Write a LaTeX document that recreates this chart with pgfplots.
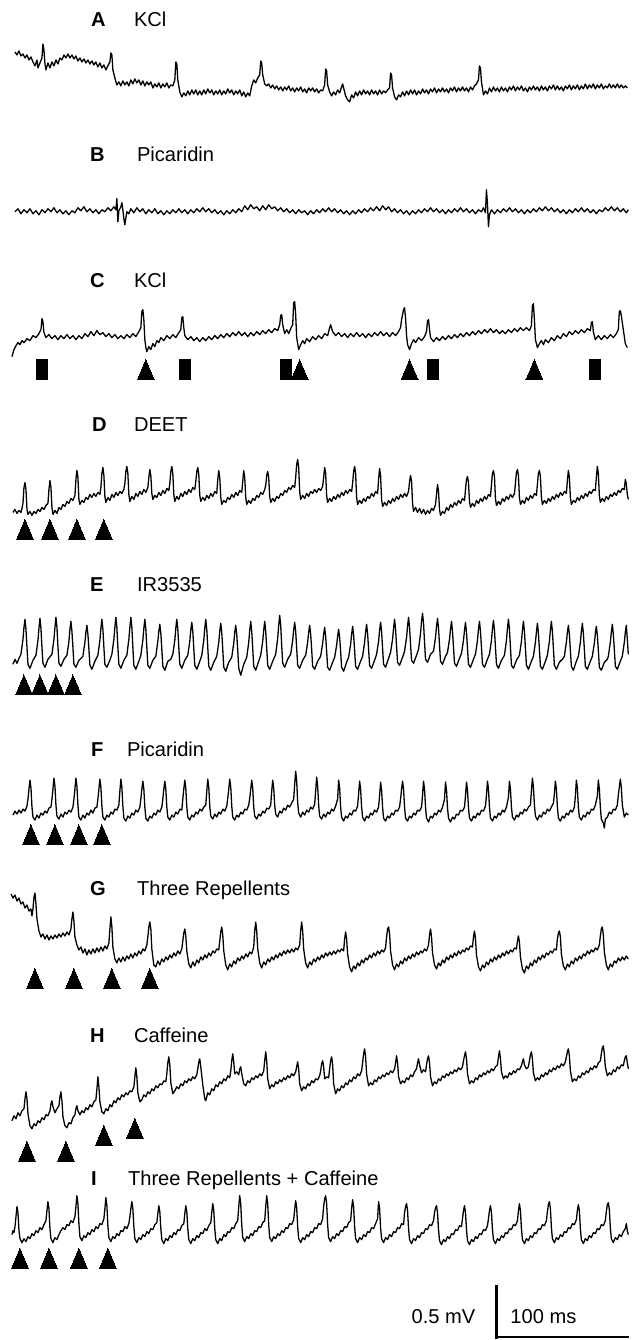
\documentclass[border=0pt]{standalone}
\usepackage{pgfplots}
\pgfplotsset{compat=1.18}
\usepackage{fontspec}
\setmainfont{Liberation Sans}
\pgfplotsset{
  trace/.style={black,line width=1.3pt,mark=none,line join=round},
  tri/.style={only marks,mark=triangle*,mark size=9.8pt,mark options={yscale=1.36,fill=black,draw=black,line width=0pt}},
  sq/.style={only marks,mark=square*,mark size=10pt,mark options={xscale=0.55,fill=black,draw=black,line width=0pt}}}
\tikzset{lab/.style={anchor=base west,inner sep=0pt,font=\fontsize{20.2}{23}\selectfont}}
\begin{document}
\begin{tikzpicture}
\begin{axis}[width=632bp,height=1340bp,scale only axis,
  xmin=0,xmax=632,ymin=0,ymax=1340,y dir=reverse,hide axis,clip=false]
% ---- A
\addplot[trace] coordinates {(15,52)(17,55)(19,51)(21,56)(23,54)(25,58)(27,55)(29,60)(31,57)(33,62)(35,66)(37,60)(38,68)(40,63)(42,58)(43,44)(44,50)(45,64)(46,70)(48,63)(50,68)(52,62)(54,66)(56,60)(58,64)(60,58)(62,60)(64,55)(66,58)(68,54)(70,58)(72,55)(74,59)(76,56)(78,61)(80,58)(82,62)(84,59)(86,63)(88,60)(90,64)(92,61)(94,65)(96,62)(98,67)(100,63)(102,68)(104,65)(106,70)(108,66)(110,62)(111,53)(112,55)(113,70)(115,78)(117,85)(119,82)(121,86)(123,81)(125,85)(127,82)(129,86)(131,80)(133,84)(135,79)(137,83)(139,80)(141,85)(143,81)(145,86)(147,82)(149,85)(151,82)(153,88)(155,84)(157,87)(159,83)(161,88)(163,84)(165,87)(167,83)(169,88)(171,85)(173,86)(175,80)(176,62)(177,64)(178,80)(180,92)(182,97)(184,93)(186,96)(188,91)(190,95)(192,90)(194,94)(196,90)(198,95)(200,91)(202,95)(204,90)(206,94)(208,89)(210,93)(212,90)(214,95)(216,91)(218,94)(220,90)(222,95)(224,91)(226,94)(228,89)(230,93)(232,90)(234,95)(236,91)(238,94)(240,90)(242,96)(244,92)(246,97)(248,93)(250,96)(252,86)(254,80)(256,83)(258,78)(260,75)(261,61)(262,63)(263,75)(265,84)(267,86)(269,84)(271,88)(273,85)(275,89)(277,86)(279,90)(281,87)(283,91)(285,87)(287,90)(289,86)(291,91)(293,88)(295,92)(297,88)(299,91)(301,87)(303,92)(305,89)(307,93)(309,88)(311,91)(313,88)(315,92)(317,89)(319,93)(321,90)(323,91)(325,85)(326,69)(327,71)(328,85)(330,92)(332,96)(334,92)(336,95)(338,90)(340,93)(342,87)(343,84)(344,88)(346,96)(348,100)(350,102)(352,95)(354,98)(356,92)(358,96)(360,91)(362,95)(364,90)(366,94)(368,91)(370,95)(372,90)(374,94)(376,91)(378,95)(380,90)(382,94)(384,91)(386,93)(388,90)(390,88)(391,73)(392,75)(393,88)(395,97)(397,100)(399,95)(401,97)(403,92)(405,96)(407,91)(409,95)(411,90)(413,94)(415,90)(417,95)(419,91)(421,94)(423,89)(425,93)(427,90)(429,94)(431,89)(433,92)(435,88)(437,93)(439,89)(441,92)(443,88)(445,92)(447,89)(449,93)(451,88)(453,91)(455,87)(457,92)(459,88)(461,91)(463,87)(465,91)(467,88)(469,92)(471,87)(473,90)(475,86)(477,84)(479,80)(480,66)(481,68)(482,82)(484,95)(486,91)(488,94)(490,88)(492,92)(494,87)(496,91)(498,88)(500,92)(502,87)(504,91)(506,88)(508,92)(510,87)(512,90)(514,86)(516,91)(518,87)(520,90)(522,86)(524,91)(526,88)(528,92)(530,87)(532,90)(534,86)(536,90)(538,87)(540,91)(542,86)(544,90)(546,87)(548,91)(550,86)(552,89)(554,85)(556,90)(558,86)(560,90)(562,87)(564,91)(566,86)(568,89)(570,85)(572,90)(574,86)(576,89)(578,85)(580,90)(582,86)(584,89)(586,84)(588,89)(590,85)(592,88)(594,84)(596,89)(598,85)(600,88)(602,84)(604,89)(606,86)(608,88)(610,84)(612,88)(614,85)(616,88)(618,84)(620,88)(622,85)(624,88)(626,86)(628,88)};
% ---- B
\addplot[trace] coordinates {(15,212)(18,209)(21,214)(24,210)(27,213)(30,209)(33,214)(36,211)(39,215)(42,210)(45,213)(48,209)(51,212)(54,208)(57,213)(60,210)(63,214)(66,211)(69,215)(72,211)(75,213)(78,208)(81,211)(84,207)(87,212)(90,209)(93,213)(96,210)(99,214)(102,210)(105,212)(108,208)(111,211)(114,207)(116,210)(117,199)(118,222)(119,211)(121,207)(122,203)(123,210)(124,219)(125,225)(126,218)(127,212)(129,214)(131,209)(134,213)(137,208)(140,212)(143,209)(146,214)(149,210)(152,213)(155,209)(158,214)(161,211)(164,215)(167,211)(170,214)(173,210)(176,213)(179,209)(182,213)(185,210)(188,214)(191,210)(194,213)(197,209)(200,212)(203,208)(206,212)(209,209)(212,213)(215,210)(218,214)(221,211)(224,215)(227,211)(230,214)(233,210)(236,213)(239,209)(242,212)(245,206)(248,210)(251,205)(254,209)(257,207)(260,211)(263,206)(266,210)(269,205)(272,209)(275,207)(278,211)(281,208)(284,212)(287,209)(290,213)(293,210)(296,214)(299,210)(302,213)(305,211)(308,215)(311,211)(314,214)(317,210)(320,213)(323,209)(326,212)(329,208)(332,212)(335,209)(338,213)(341,210)(344,214)(347,211)(350,215)(353,211)(356,214)(359,210)(362,213)(365,209)(368,212)(371,208)(374,211)(377,207)(380,211)(383,206)(386,210)(389,207)(392,212)(395,209)(398,213)(401,210)(404,214)(407,211)(410,215)(413,211)(416,214)(419,210)(422,213)(425,209)(428,212)(431,208)(434,212)(437,209)(440,213)(443,210)(446,214)(449,210)(452,213)(455,209)(458,212)(461,208)(464,212)(467,209)(470,213)(473,210)(476,214)(479,210)(482,212)(484,208)(486,213)(487,190)(488,204)(489,227)(490,215)(492,210)(495,214)(498,210)(501,213)(504,209)(507,212)(510,208)(513,212)(516,209)(519,213)(522,210)(525,214)(528,210)(531,213)(534,209)(537,212)(540,208)(543,211)(546,207)(549,211)(552,208)(555,212)(558,209)(561,213)(564,210)(567,214)(570,210)(573,213)(576,209)(579,212)(582,208)(585,212)(588,209)(591,213)(594,210)(597,214)(600,210)(603,212)(606,208)(609,211)(612,207)(615,211)(618,208)(621,212)(624,209)(627,213)(629,210)};
% ---- C
\addplot[trace] coordinates {(12,357)(14,350)(16,346)(18,343)(20,345)(22,341)(24,343)(27,339)(30,341)(33,336)(36,338)(39,334)(41,330)(42,319)(43,322)(44,333)(46,338)(49,335)(52,339)(55,336)(58,340)(61,336)(64,339)(67,335)(70,339)(73,336)(76,340)(79,336)(82,339)(85,334)(88,337)(91,332)(94,336)(97,331)(100,335)(103,333)(106,337)(109,334)(112,338)(115,335)(118,339)(121,336)(124,339)(127,335)(130,338)(133,334)(136,337)(139,332)(141,328)(142,312)(143,310)(144,320)(145,340)(146,348)(147,352)(149,347)(151,350)(153,344)(155,347)(157,341)(159,343)(161,338)(164,341)(167,336)(170,339)(173,335)(176,338)(179,333)(181,330)(182,318)(183,317)(184,328)(185,336)(188,340)(191,337)(194,341)(197,338)(200,342)(203,338)(206,341)(209,337)(212,340)(215,336)(218,339)(221,335)(224,338)(227,334)(230,337)(233,333)(236,336)(239,332)(242,336)(245,333)(248,337)(251,333)(254,336)(257,332)(260,335)(263,331)(266,334)(269,330)(272,333)(275,329)(278,331)(280,325)(281,316)(282,315)(283,325)(285,334)(287,330)(289,334)(291,329)(293,325)(294,303)(295,302)(296,315)(297,338)(299,350)(301,345)(303,341)(305,344)(307,339)(310,342)(313,337)(316,340)(319,336)(322,339)(325,334)(328,336)(330,328)(331,325)(333,332)(336,336)(339,333)(342,337)(345,334)(348,338)(351,334)(354,337)(357,333)(360,337)(363,334)(366,338)(369,334)(372,337)(375,333)(378,336)(381,332)(384,336)(387,333)(390,337)(393,333)(396,336)(399,332)(401,328)(402,320)(404,310)(405,308)(406,318)(407,336)(408,345)(410,350)(412,344)(414,340)(416,343)(419,338)(422,341)(425,337)(427,332)(428,321)(429,320)(430,330)(431,338)(434,342)(437,338)(440,341)(443,337)(446,340)(449,336)(452,339)(455,335)(458,338)(461,334)(464,337)(467,333)(470,336)(473,332)(476,335)(479,331)(482,334)(485,330)(488,333)(491,329)(494,333)(497,330)(500,334)(503,331)(506,334)(509,330)(512,333)(515,329)(518,332)(521,328)(524,331)(527,328)(530,331)(532,326)(533,306)(534,304)(535,320)(536,340)(538,348)(540,344)(542,341)(544,345)(546,340)(549,343)(552,338)(555,341)(558,336)(561,339)(564,334)(567,337)(570,332)(573,335)(576,331)(579,334)(582,330)(585,333)(588,329)(591,331)(592,323)(593,322)(594,332)(596,340)(599,336)(602,340)(605,336)(608,339)(611,335)(614,338)(617,334)(619,330)(620,312)(621,311)(622,316)(624,330)(626,344)(628,348)};
% ---- D
\addplot[trace] coordinates {(13,513)(15,510)(17,514)(19,511)(21,513)(22,509)(23,504)(24,488)(25,483)(26,490)(27,510)(28,515)(30,512)(32,516)(34,512)(36,514)(38,510)(40,512)(42,508)(44,510)(46,506)(48,504)(49,490)(50,481)(51,488)(52,508)(53,515)(55,511)(57,514)(59,508)(61,510)(63,505)(65,507)(67,502)(69,504)(71,499)(73,501)(75,496)(76,480)(77,471)(78,478)(79,500)(80,505)(82,501)(84,503)(86,498)(88,500)(90,495)(92,498)(94,494)(96,497)(98,493)(100,495)(101,488)(102,474)(103,468)(104,476)(105,497)(106,503)(108,498)(110,501)(112,495)(114,498)(116,493)(118,496)(120,492)(122,494)(124,490)(125,484)(126,472)(127,467)(128,474)(129,495)(130,502)(132,497)(134,500)(136,494)(138,497)(140,492)(142,495)(144,490)(146,493)(148,488)(149,478)(150,470)(151,476)(152,494)(153,500)(155,496)(157,498)(159,493)(161,496)(163,491)(165,494)(167,489)(169,491)(170,484)(171,472)(172,467)(173,474)(174,495)(175,502)(177,497)(179,500)(181,494)(183,497)(185,492)(187,495)(189,490)(191,493)(193,488)(195,490)(196,482)(197,472)(198,468)(199,475)(200,496)(201,502)(203,498)(205,501)(207,496)(209,499)(211,494)(213,497)(215,492)(217,494)(218,480)(219,471)(220,478)(221,498)(222,505)(224,501)(226,503)(228,498)(230,500)(232,495)(234,498)(236,493)(238,496)(240,491)(242,493)(243,482)(244,471)(245,478)(246,498)(247,505)(249,501)(251,504)(253,499)(255,501)(257,496)(259,498)(261,493)(263,495)(265,490)(266,486)(267,476)(268,472)(269,478)(270,497)(271,503)(273,499)(275,502)(277,497)(279,499)(281,494)(283,496)(285,491)(287,493)(289,488)(291,490)(293,486)(295,488)(296,478)(297,465)(298,460)(299,468)(300,492)(301,500)(303,496)(305,499)(307,494)(309,497)(311,492)(313,494)(315,490)(317,493)(319,489)(321,491)(323,487)(324,478)(325,468)(326,474)(327,496)(328,503)(330,499)(332,502)(334,497)(336,500)(338,495)(340,498)(342,493)(344,496)(346,491)(348,494)(350,490)(352,492)(353,484)(354,472)(355,467)(356,474)(357,498)(358,505)(360,501)(362,504)(364,499)(366,502)(368,497)(370,499)(372,494)(374,497)(376,492)(378,494)(379,480)(380,469)(381,476)(382,500)(383,507)(385,503)(387,506)(389,501)(391,504)(393,499)(395,502)(397,497)(399,500)(401,495)(403,498)(405,494)(407,497)(409,492)(410,482)(411,476)(412,482)(413,504)(414,512)(416,508)(418,513)(420,509)(422,514)(424,510)(426,515)(428,511)(430,514)(432,509)(434,511)(436,505)(437,495)(438,485)(439,492)(440,510)(441,516)(443,512)(445,514)(447,508)(449,511)(451,505)(453,508)(455,503)(457,506)(459,501)(461,504)(463,499)(465,501)(466,490)(467,480)(468,477)(469,483)(470,502)(471,508)(473,504)(475,507)(477,501)(479,504)(481,499)(483,502)(485,497)(487,500)(489,495)(491,497)(492,485)(493,474)(494,471)(495,477)(496,499)(497,506)(499,502)(501,505)(503,499)(505,502)(507,497)(509,500)(511,495)(513,498)(515,494)(516,484)(517,473)(518,470)(519,476)(520,498)(521,505)(523,501)(525,504)(527,498)(529,501)(531,496)(533,499)(535,494)(537,496)(538,485)(539,474)(540,471)(541,477)(542,498)(543,505)(545,501)(547,504)(549,499)(551,502)(553,497)(555,500)(557,495)(559,498)(561,493)(563,496)(565,492)(567,494)(568,481)(569,471)(570,478)(571,498)(572,505)(574,501)(576,503)(578,498)(580,501)(582,496)(584,499)(586,494)(588,497)(590,492)(592,494)(594,490)(596,491)(597,478)(598,467)(599,474)(600,496)(601,503)(603,499)(605,502)(607,497)(609,500)(611,495)(613,497)(615,493)(617,496)(619,491)(621,493)(623,489)(625,490)(626,480)(627,484)(628,495)(629,500)};
% ---- E
\addplot[trace] coordinates {(13,665)(15,660)(17,664)(19,659)(21,655)(23,640)(24,628)(25,620)(26,630)(27,648)(28,665)(30,669)(33,661)(36,656)(38,641)(39,629)(40,619)(41,629)(42,648)(43,664)(45,668)(48,660)(52,655)(54,640)(55,628)(56,618)(57,628)(58,647)(59,664)(61,667)(64,660)(67,656)(69,642)(70,630)(71,622)(72,632)(73,648)(74,665)(76,668)(79,661)(83,657)(85,643)(86,633)(87,626)(88,635)(89,650)(90,666)(92,670)(95,662)(98,656)(100,641)(101,629)(102,620)(103,630)(104,648)(105,665)(107,668)(110,661)(112,655)(114,640)(115,628)(116,618)(117,628)(118,648)(119,665)(121,669)(124,661)(127,656)(129,640)(130,628)(131,618)(132,628)(133,648)(134,666)(136,670)(139,662)(141,656)(143,641)(144,629)(145,620)(146,630)(147,648)(148,666)(150,669)(153,661)(156,657)(158,642)(159,632)(160,625)(161,634)(162,650)(163,667)(165,671)(168,662)(171,660)(173,655)(175,641)(176,629)(177,620)(178,630)(179,648)(180,665)(182,669)(185,661)(188,656)(190,642)(191,631)(192,623)(193,632)(194,649)(195,666)(197,670)(200,662)(202,656)(204,641)(205,629)(206,620)(207,630)(208,648)(209,667)(211,671)(214,663)(217,657)(219,643)(220,632)(221,624)(222,633)(223,650)(224,668)(226,672)(229,663)(232,658)(234,644)(235,633)(236,626)(237,635)(238,651)(239,669)(241,676)(244,665)(247,658)(249,643)(250,631)(251,622)(252,632)(253,649)(254,667)(256,671)(259,662)(261,656)(263,642)(264,631)(265,622)(266,632)(267,649)(268,666)(270,670)(273,662)(276,655)(278,639)(279,626)(280,616)(281,626)(282,646)(283,664)(285,668)(288,660)(291,655)(293,641)(294,631)(295,623)(296,632)(297,649)(298,666)(300,669)(303,661)(306,656)(308,643)(309,633)(310,626)(311,635)(312,650)(313,667)(315,670)(318,662)(321,657)(323,644)(324,635)(325,628)(326,637)(327,652)(328,668)(330,671)(333,663)(335,658)(337,646)(338,637)(339,630)(340,638)(341,652)(342,668)(344,672)(347,663)(349,658)(351,645)(352,635)(353,627)(354,636)(355,651)(356,667)(358,670)(361,662)(363,657)(365,643)(366,633)(367,625)(368,634)(369,650)(370,666)(372,669)(375,661)(377,655)(379,642)(380,631)(381,623)(382,632)(383,649)(384,665)(386,668)(389,659)(391,653)(393,640)(394,629)(395,620)(396,630)(397,647)(398,663)(400,666)(403,658)(405,652)(407,638)(408,627)(409,618)(410,628)(411,645)(412,661)(414,664)(417,656)(419,650)(421,634)(422,622)(423,614)(424,624)(425,643)(426,660)(428,663)(431,655)(434,652)(436,638)(437,627)(438,619)(439,629)(440,646)(441,662)(443,665)(446,657)(448,653)(450,640)(451,630)(452,622)(453,632)(454,648)(455,664)(457,667)(460,659)(462,654)(464,641)(465,631)(466,623)(467,633)(468,649)(469,665)(471,668)(474,660)(476,655)(478,641)(479,630)(480,622)(481,632)(482,648)(483,665)(485,668)(488,660)(490,655)(492,641)(493,629)(494,621)(495,631)(496,648)(497,665)(499,669)(502,661)(505,656)(507,641)(508,629)(509,620)(510,630)(511,648)(512,666)(514,669)(517,661)(520,656)(522,642)(523,631)(524,622)(525,632)(526,649)(527,666)(529,670)(532,662)(534,657)(536,643)(537,633)(538,624)(539,634)(540,650)(541,667)(543,670)(546,662)(548,656)(550,642)(551,631)(552,622)(553,632)(554,649)(555,666)(557,670)(560,663)(563,660)(565,657)(567,643)(568,633)(569,626)(570,635)(571,651)(572,667)(574,671)(577,662)(579,657)(581,643)(582,632)(583,624)(584,634)(585,650)(586,667)(588,670)(591,662)(593,657)(595,644)(596,634)(597,627)(598,636)(599,651)(600,668)(602,671)(605,663)(608,660)(609,657)(611,643)(612,633)(613,625)(614,635)(615,650)(616,667)(618,670)(621,662)(623,657)(625,643)(626,633)(627,626)(628,640)(629,655)};
% ---- F
\addplot[trace] coordinates {(13,816)(15,812)(17,815)(19,811)(21,814)(23,810)(25,812)(27,807)(28,800)(29,790)(30,781)(31,789)(32,808)(33,818)(35,821)(37,816)(39,819)(41,814)(43,816)(45,812)(47,814)(49,809)(51,808)(52,800)(53,790)(54,779)(55,787)(56,806)(57,817)(59,820)(61,815)(63,818)(65,813)(67,815)(69,811)(71,813)(73,808)(74,800)(75,790)(76,779)(77,787)(78,806)(79,818)(81,821)(83,816)(85,819)(87,814)(89,816)(91,811)(93,814)(95,809)(97,808)(98,800)(99,790)(100,780)(101,788)(102,807)(103,818)(105,821)(107,816)(109,818)(111,813)(113,815)(115,810)(117,811)(119,806)(120,792)(121,780)(122,788)(123,807)(124,819)(126,822)(128,817)(130,819)(132,814)(134,816)(136,811)(138,813)(140,808)(141,800)(142,790)(143,782)(144,790)(145,808)(146,819)(148,822)(150,817)(152,819)(154,814)(156,816)(158,811)(160,813)(162,808)(163,800)(164,790)(165,782)(166,790)(167,808)(168,818)(170,821)(172,816)(174,818)(176,813)(178,815)(180,810)(182,811)(183,800)(184,790)(185,781)(186,789)(187,808)(188,818)(190,821)(192,816)(194,818)(196,813)(198,815)(200,810)(202,812)(204,808)(206,806)(207,792)(208,780)(209,788)(210,807)(211,817)(213,820)(215,815)(217,818)(219,813)(221,815)(223,810)(225,812)(227,807)(228,799)(229,790)(230,780)(231,788)(232,807)(233,818)(235,821)(237,816)(239,818)(241,813)(243,815)(245,810)(247,811)(249,806)(250,799)(251,790)(252,781)(253,789)(254,808)(255,817)(257,820)(259,815)(261,817)(263,812)(265,814)(267,809)(269,810)(271,806)(272,792)(273,781)(274,789)(275,806)(276,815)(278,818)(280,812)(282,814)(284,809)(286,811)(288,806)(290,808)(292,804)(294,800)(295,785)(296,772)(297,782)(298,803)(299,814)(301,818)(303,813)(305,816)(307,811)(309,813)(311,808)(313,810)(315,805)(316,792)(317,778)(318,787)(319,806)(320,817)(322,820)(324,815)(326,818)(328,813)(330,815)(332,810)(334,812)(336,807)(338,800)(339,781)(340,789)(341,808)(342,818)(344,822)(346,817)(348,819)(350,814)(352,816)(354,811)(356,812)(358,807)(359,795)(360,782)(361,790)(362,808)(363,818)(365,822)(367,817)(369,819)(371,814)(373,816)(375,811)(377,813)(379,808)(380,797)(381,783)(382,791)(383,808)(384,819)(386,822)(388,817)(390,819)(392,814)(394,816)(396,811)(398,812)(400,808)(401,800)(402,790)(403,782)(404,790)(405,808)(406,819)(408,822)(410,817)(412,819)(414,814)(416,816)(418,811)(420,812)(422,808)(423,796)(424,782)(425,790)(426,808)(427,819)(429,823)(431,817)(433,819)(435,814)(437,816)(439,811)(441,813)(443,808)(445,800)(446,783)(447,791)(448,809)(449,819)(451,823)(453,818)(455,820)(457,815)(459,816)(461,811)(463,812)(465,808)(466,797)(467,783)(468,791)(469,809)(470,819)(472,822)(474,817)(476,819)(478,814)(480,816)(482,811)(484,812)(486,807)(487,796)(488,782)(489,790)(490,808)(491,819)(493,822)(495,817)(497,819)(499,814)(501,816)(503,811)(505,813)(507,808)(509,798)(510,782)(511,790)(512,808)(513,818)(515,821)(517,816)(519,818)(521,813)(523,815)(525,810)(527,812)(529,808)(531,806)(532,792)(533,779)(534,788)(535,806)(536,817)(538,821)(540,816)(542,818)(544,813)(546,815)(548,810)(550,812)(552,808)(554,804)(555,795)(556,782)(557,790)(558,808)(559,819)(561,822)(563,817)(565,819)(567,814)(569,816)(571,811)(573,813)(575,808)(576,797)(577,781)(578,789)(579,808)(580,818)(582,821)(584,816)(586,818)(588,813)(590,815)(592,810)(594,811)(596,806)(598,797)(599,781)(600,790)(601,808)(602,820)(604,824)(605,829)(606,820)(608,818)(610,813)(612,815)(614,810)(616,811)(618,806)(619,796)(620,788)(621,780)(622,788)(623,806)(625,818)(627,814)(629,816)};
% ---- G
\addplot[trace] coordinates {(11,895)(13,899)(15,896)(17,902)(19,899)(21,905)(23,903)(25,909)(27,906)(29,912)(31,910)(32,917)(33,910)(34,898)(35,894)(36,905)(37,920)(39,932)(41,938)(43,935)(45,940)(47,936)(49,941)(51,937)(53,940)(55,936)(57,939)(59,935)(61,938)(63,934)(65,937)(67,933)(69,936)(71,930)(72,920)(73,913)(74,922)(75,938)(77,946)(79,951)(81,948)(83,954)(85,950)(87,956)(89,951)(91,955)(93,950)(95,954)(97,949)(99,953)(101,948)(103,952)(105,947)(107,950)(109,944)(110,930)(111,918)(112,928)(113,948)(115,960)(117,964)(119,959)(121,963)(123,958)(125,962)(127,957)(129,960)(131,955)(133,959)(135,954)(137,957)(139,952)(141,955)(143,950)(145,952)(147,946)(148,938)(149,928)(150,923)(151,930)(152,950)(154,966)(156,968)(158,962)(160,966)(162,960)(164,963)(166,958)(168,961)(170,956)(172,959)(174,954)(176,957)(178,952)(180,955)(182,950)(183,942)(184,934)(185,930)(186,937)(187,952)(189,965)(191,969)(193,963)(195,967)(197,961)(199,964)(201,958)(203,961)(205,956)(207,959)(209,954)(211,957)(213,952)(215,954)(217,950)(219,951)(220,942)(221,933)(222,928)(223,936)(224,952)(226,966)(228,971)(230,965)(232,968)(234,962)(236,965)(238,959)(240,962)(242,957)(244,960)(246,955)(248,958)(250,953)(252,955)(254,948)(255,932)(256,923)(257,932)(258,950)(260,964)(262,969)(264,963)(266,966)(268,960)(270,963)(272,958)(274,961)(276,956)(278,959)(280,954)(282,957)(284,952)(286,955)(288,951)(290,954)(292,950)(294,953)(296,949)(298,951)(300,946)(301,932)(302,923)(303,932)(304,950)(306,964)(308,969)(310,963)(312,966)(314,960)(316,963)(318,958)(320,961)(322,956)(324,959)(326,954)(328,957)(330,953)(332,956)(334,952)(336,955)(338,951)(340,953)(342,950)(344,952)(345,940)(346,933)(347,940)(348,955)(350,968)(352,973)(354,967)(356,970)(358,964)(360,967)(362,961)(364,964)(366,959)(368,961)(370,956)(372,959)(374,954)(376,957)(378,952)(380,955)(382,951)(384,953)(386,949)(387,938)(388,930)(389,928)(390,935)(391,952)(393,966)(395,971)(397,965)(399,968)(401,962)(403,965)(405,959)(407,962)(409,957)(411,960)(413,955)(415,958)(417,953)(419,956)(421,952)(423,954)(425,950)(427,952)(429,946)(430,936)(431,930)(432,938)(433,954)(435,966)(437,970)(439,964)(441,967)(443,961)(445,964)(447,958)(449,961)(451,956)(453,959)(455,954)(457,957)(459,952)(461,955)(463,951)(465,953)(467,949)(469,951)(471,947)(473,948)(474,938)(475,932)(476,940)(477,956)(479,968)(481,972)(483,966)(485,969)(487,963)(489,966)(491,960)(493,963)(495,958)(497,961)(499,956)(501,959)(503,954)(505,957)(507,952)(509,955)(511,951)(513,953)(515,949)(517,950)(518,942)(519,937)(520,943)(521,958)(523,970)(525,974)(527,967)(529,970)(531,964)(533,967)(535,961)(537,964)(539,958)(541,961)(543,956)(545,959)(547,954)(549,956)(551,952)(553,954)(555,950)(557,951)(558,940)(559,934)(560,932)(561,938)(562,955)(564,967)(566,971)(568,965)(570,968)(572,962)(574,965)(576,959)(578,962)(580,957)(582,960)(584,955)(586,957)(588,952)(590,955)(592,951)(594,953)(596,949)(598,951)(600,946)(601,937)(602,930)(603,928)(604,936)(605,953)(607,966)(609,971)(611,965)(613,968)(615,962)(617,964)(619,959)(621,962)(623,958)(625,961)(627,957)(629,960)};
% ---- H
\addplot[trace] coordinates {(12,1122)(14,1117)(16,1120)(18,1114)(20,1117)(22,1112)(24,1110)(25,1100)(26,1093)(27,1100)(28,1115)(30,1127)(32,1130)(34,1125)(36,1127)(38,1122)(40,1124)(42,1119)(44,1121)(46,1116)(48,1117)(50,1112)(51,1105)(52,1102)(53,1108)(55,1114)(57,1110)(59,1107)(60,1098)(61,1093)(62,1102)(63,1118)(65,1127)(67,1129)(69,1124)(71,1125)(73,1119)(75,1116)(76,1110)(77,1107)(78,1112)(80,1116)(82,1112)(84,1114)(86,1109)(88,1111)(90,1106)(92,1108)(94,1103)(96,1101)(97,1090)(98,1078)(99,1088)(100,1103)(102,1113)(104,1115)(106,1110)(108,1112)(110,1106)(112,1108)(114,1102)(116,1104)(118,1099)(120,1101)(122,1096)(124,1098)(126,1094)(128,1096)(130,1092)(132,1093)(134,1088)(135,1078)(136,1069)(137,1078)(138,1094)(140,1103)(142,1101)(144,1096)(146,1098)(148,1093)(150,1095)(152,1090)(154,1092)(156,1087)(158,1089)(160,1085)(162,1086)(164,1082)(166,1083)(167,1075)(168,1064)(169,1058)(170,1066)(171,1084)(173,1095)(175,1092)(177,1088)(179,1090)(181,1085)(183,1087)(185,1082)(187,1084)(189,1080)(191,1082)(193,1078)(195,1080)(197,1076)(198,1070)(199,1063)(200,1060)(201,1068)(203,1086)(205,1100)(206,1102)(208,1094)(210,1096)(212,1090)(214,1092)(216,1086)(218,1088)(220,1083)(222,1085)(224,1080)(226,1082)(228,1077)(230,1079)(231,1072)(232,1062)(233,1055)(234,1063)(235,1075)(237,1073)(239,1076)(240,1070)(241,1068)(242,1075)(244,1085)(246,1087)(248,1082)(250,1084)(252,1079)(254,1081)(256,1077)(258,1079)(260,1075)(262,1077)(264,1072)(265,1062)(266,1053)(267,1062)(268,1080)(270,1090)(272,1086)(274,1088)(276,1083)(278,1085)(280,1081)(282,1083)(284,1079)(286,1081)(288,1077)(290,1079)(292,1075)(294,1077)(296,1073)(297,1068)(298,1063)(299,1070)(300,1085)(302,1092)(304,1088)(306,1090)(308,1085)(310,1087)(312,1082)(314,1084)(316,1080)(318,1081)(320,1077)(321,1072)(322,1065)(323,1062)(324,1068)(325,1080)(327,1078)(329,1079)(330,1070)(331,1062)(332,1058)(333,1066)(334,1085)(336,1095)(338,1090)(340,1092)(342,1087)(344,1089)(346,1084)(348,1086)(350,1081)(352,1083)(354,1078)(356,1080)(358,1075)(360,1077)(362,1072)(363,1064)(364,1055)(365,1050)(366,1058)(367,1075)(369,1087)(371,1084)(373,1086)(375,1081)(377,1083)(379,1078)(381,1080)(383,1076)(385,1078)(387,1074)(389,1076)(391,1072)(393,1074)(395,1070)(396,1064)(397,1057)(398,1064)(399,1078)(401,1085)(403,1082)(405,1084)(407,1079)(409,1081)(411,1076)(413,1078)(415,1073)(417,1070)(418,1064)(419,1060)(420,1066)(422,1074)(424,1071)(426,1073)(427,1066)(428,1060)(429,1057)(430,1064)(431,1078)(433,1087)(435,1083)(437,1085)(439,1080)(441,1082)(443,1077)(445,1079)(447,1075)(449,1077)(451,1073)(453,1075)(455,1071)(457,1073)(459,1069)(461,1071)(463,1068)(464,1062)(465,1057)(466,1053)(467,1060)(468,1075)(470,1085)(472,1082)(474,1084)(476,1079)(478,1081)(480,1076)(482,1078)(484,1074)(486,1076)(488,1072)(490,1074)(492,1070)(494,1072)(496,1068)(498,1066)(499,1058)(500,1052)(501,1060)(502,1073)(504,1080)(506,1077)(508,1079)(510,1074)(512,1076)(514,1072)(516,1074)(518,1070)(520,1071)(522,1067)(523,1063)(524,1060)(525,1066)(527,1070)(529,1068)(530,1062)(531,1056)(532,1053)(533,1060)(534,1074)(536,1082)(538,1079)(540,1081)(542,1076)(544,1078)(546,1074)(548,1076)(550,1071)(552,1073)(554,1069)(556,1071)(558,1067)(560,1069)(562,1065)(564,1067)(566,1063)(567,1058)(568,1053)(569,1050)(570,1057)(571,1072)(573,1083)(575,1080)(577,1082)(579,1077)(581,1079)(583,1074)(585,1076)(587,1072)(589,1074)(591,1069)(593,1071)(595,1067)(597,1069)(599,1064)(601,1062)(602,1055)(603,1049)(604,1047)(605,1055)(606,1068)(608,1077)(610,1074)(612,1076)(614,1071)(616,1073)(618,1068)(620,1070)(622,1066)(624,1067)(625,1062)(626,1058)(627,1057)(628,1064)(629,1070)};
% ---- I
\addplot[trace] coordinates {(12,1236)(13,1232)(14,1234)(15,1228)(16,1218)(17,1208)(18,1214)(19,1232)(20,1240)(22,1244)(24,1240)(26,1243)(28,1238)(30,1240)(32,1235)(34,1237)(36,1232)(38,1234)(40,1229)(42,1231)(44,1226)(46,1222)(47,1212)(48,1203)(49,1210)(50,1230)(51,1240)(53,1244)(55,1239)(57,1241)(59,1236)(61,1232)(63,1229)(65,1231)(67,1226)(69,1227)(71,1222)(73,1224)(75,1218)(76,1208)(77,1197)(78,1205)(79,1225)(80,1238)(82,1242)(84,1237)(86,1239)(88,1234)(90,1236)(92,1231)(94,1233)(96,1228)(98,1230)(100,1225)(102,1226)(104,1220)(105,1210)(106,1199)(107,1207)(108,1227)(109,1239)(111,1243)(113,1238)(115,1240)(117,1235)(119,1237)(121,1232)(123,1233)(125,1228)(127,1230)(129,1225)(130,1218)(131,1210)(132,1203)(133,1210)(134,1228)(135,1240)(137,1244)(139,1239)(141,1241)(143,1236)(145,1238)(147,1233)(149,1235)(151,1230)(153,1231)(155,1226)(157,1224)(158,1215)(159,1207)(160,1213)(161,1230)(162,1241)(164,1245)(166,1240)(168,1242)(170,1237)(172,1239)(174,1234)(176,1236)(178,1231)(180,1232)(182,1227)(184,1225)(185,1215)(186,1207)(187,1213)(188,1230)(189,1241)(191,1245)(193,1240)(195,1242)(197,1237)(199,1239)(201,1234)(203,1235)(205,1230)(207,1232)(209,1227)(211,1224)(212,1214)(213,1205)(214,1212)(215,1230)(216,1241)(218,1245)(220,1240)(222,1242)(224,1236)(226,1238)(228,1233)(230,1234)(232,1229)(234,1230)(236,1225)(238,1222)(239,1208)(240,1197)(241,1205)(242,1226)(243,1239)(245,1243)(247,1238)(249,1240)(251,1235)(253,1237)(255,1232)(257,1233)(259,1228)(261,1229)(263,1224)(265,1222)(266,1208)(267,1197)(268,1205)(269,1226)(270,1239)(272,1243)(274,1238)(276,1240)(278,1235)(280,1237)(282,1232)(284,1234)(286,1229)(288,1230)(290,1225)(292,1226)(294,1221)(295,1211)(296,1202)(297,1209)(298,1228)(299,1240)(301,1244)(303,1239)(305,1241)(307,1236)(309,1238)(311,1233)(313,1234)(315,1229)(317,1230)(319,1225)(321,1226)(323,1220)(324,1208)(325,1200)(326,1197)(327,1205)(328,1226)(329,1239)(331,1243)(333,1238)(335,1240)(337,1235)(339,1237)(341,1232)(343,1233)(345,1228)(347,1229)(349,1224)(351,1222)(352,1210)(353,1201)(354,1208)(355,1228)(356,1240)(358,1244)(360,1239)(362,1241)(364,1236)(366,1238)(368,1233)(370,1234)(372,1229)(374,1230)(376,1225)(378,1220)(379,1203)(380,1210)(381,1229)(382,1240)(384,1244)(386,1239)(388,1241)(390,1236)(392,1238)(394,1233)(396,1234)(398,1229)(400,1230)(402,1225)(404,1226)(405,1214)(406,1208)(407,1205)(408,1212)(409,1230)(410,1241)(412,1245)(414,1240)(416,1242)(418,1237)(420,1239)(422,1234)(424,1235)(426,1230)(428,1231)(430,1226)(432,1227)(434,1222)(435,1214)(436,1209)(437,1207)(438,1214)(439,1231)(440,1242)(442,1246)(444,1241)(446,1243)(448,1238)(450,1240)(452,1235)(454,1236)(456,1231)(458,1232)(460,1227)(462,1228)(463,1220)(464,1212)(465,1207)(466,1214)(467,1231)(468,1242)(470,1246)(472,1241)(474,1243)(476,1238)(478,1240)(480,1235)(482,1236)(484,1231)(486,1232)(488,1227)(489,1220)(490,1212)(491,1207)(492,1214)(493,1231)(494,1241)(496,1245)(498,1240)(500,1242)(502,1237)(504,1239)(506,1234)(508,1235)(510,1230)(512,1231)(514,1226)(516,1227)(518,1222)(519,1212)(520,1205)(521,1212)(522,1230)(523,1241)(525,1245)(527,1240)(529,1242)(531,1237)(533,1239)(535,1234)(537,1235)(539,1230)(541,1231)(543,1226)(545,1227)(547,1222)(548,1213)(549,1206)(550,1203)(551,1210)(552,1229)(553,1240)(555,1244)(557,1239)(559,1241)(561,1236)(563,1238)(565,1233)(567,1234)(569,1229)(571,1230)(573,1225)(575,1226)(577,1221)(578,1212)(579,1206)(580,1212)(581,1230)(582,1241)(584,1245)(586,1240)(588,1242)(590,1237)(592,1239)(594,1234)(596,1235)(598,1230)(600,1231)(602,1226)(604,1227)(606,1222)(607,1213)(608,1206)(609,1204)(610,1211)(611,1229)(612,1240)(614,1244)(616,1239)(618,1241)(620,1236)(622,1238)(624,1233)(626,1230)(627,1225)(628,1232)(629,1236)};
% ---- markers
\addplot[sq] coordinates {(42,370)(185,370)(286,370)(433,370)(596,370)};
\addplot[tri] coordinates {(146,373.3)(300,373.3)(410,373.3)(535,373.3)};
\addplot[tri] coordinates {(25,533.3)(50,533.3)(77,533.3)(104,533.3)};
\addplot[tri] coordinates {(24,689)(40,689)(56,689)(73,689)};
\addplot[tri] coordinates {(31,839)(55,839)(79,839)(102,839)};
\addplot[tri] coordinates {(35,983)(74,983)(112,983)(150,983)};
\addplot[tri] coordinates {(27,1156)(66,1156)(104,1140)(135,1133)};
\addplot[tri] coordinates {(20,1263)(49,1263)(79,1263)(108,1263)};
% ---- scale bar
\addplot[black,line width=3pt,mark=none] coordinates {(497,1286)(497,1340)};
\addplot[black,line width=1.2pt,mark=none] coordinates {(497,1338.5)(630,1338.5)};
% ---- labels
\node[lab] at (axis cs:91,27) {\textbf{A}};
\node[lab] at (axis cs:134,27) {KCl};
\node[lab] at (axis cs:90,162) {\textbf{B}};
\node[lab] at (axis cs:137,162) {Picaridin};
\node[lab] at (axis cs:90,288) {\textbf{C}};
\node[lab] at (axis cs:134,288) {KCl};
\node[lab] at (axis cs:92,432) {\textbf{D}};
\node[lab] at (axis cs:134,432) {DEET};
\node[lab] at (axis cs:90,592) {\textbf{E}};
\node[lab] at (axis cs:137,592) {IR3535};
\node[lab] at (axis cs:91,757) {\textbf{F}};
\node[lab] at (axis cs:127,757) {Picaridin};
\node[lab] at (axis cs:90,896) {\textbf{G}};
\node[lab] at (axis cs:137,896) {Three Repellents};
\node[lab] at (axis cs:90,1044) {\textbf{H}};
\node[lab] at (axis cs:134,1044) {Caffeine};
\node[lab] at (axis cs:91,1187) {\textbf{I}};
\node[lab] at (axis cs:128,1187) {Three Repellents + Caffeine};
\node[lab,anchor=base] at (axis cs:444,1325) {0.5 mV};
\node[lab,anchor=base] at (axis cs:544,1325) {100 ms};
\end{axis}
\path (current axis.south west) rectangle (current axis.north east);
\end{tikzpicture}
\end{document}
